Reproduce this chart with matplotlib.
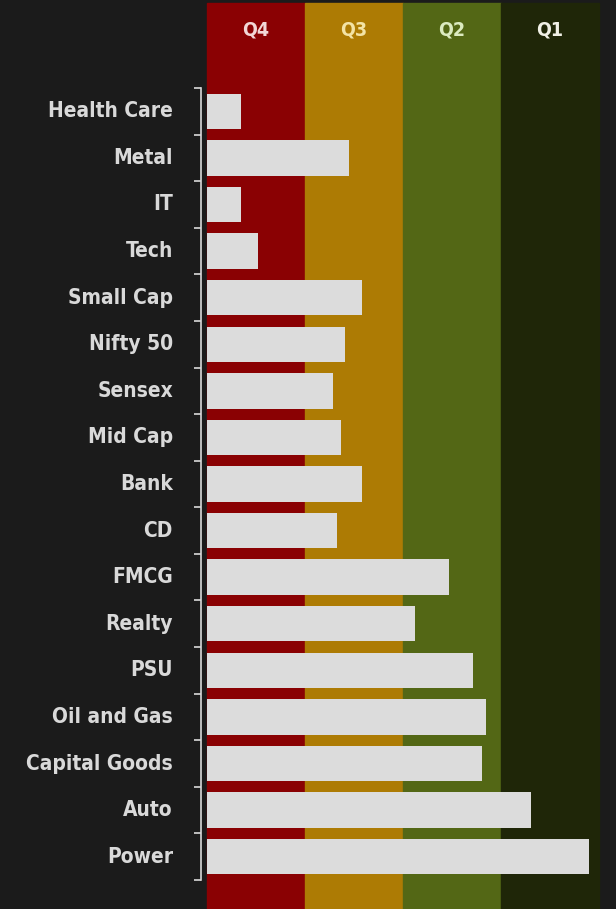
import numpy as np
import matplotlib.pyplot as plt
import matplotlib.transforms as mtransforms
from matplotlib.patches import Rectangle

# sectors, top to bottom
sectors = ['Health Care', 'Metal', 'IT', 'Tech', 'Small Cap', 'Nifty 50', 'Sensex',
           'Mid Cap', 'Bank', 'CD', 'FMCG', 'Realty', 'PSU', 'Oil and Gas',
           'Capital Goods', 'Auto', 'Power']
scores = [8.7, 36.2, 8.7, 13.0, 39.5, 35.2, 32.1, 34.2, 39.5, 33.2, 61.7, 53.0,
          67.9, 71.2, 70.2, 82.7, 97.4]

quartiles = ['Q4', 'Q3', 'Q2', 'Q1']
q_edges = [0, 25, 50, 75, 100]
q_colors = ['#8a0103', '#ad7b04', '#536715', '#1f2608']
q_text = ['#f2d6d6', '#f3e3a6', '#dcebc0', '#f0f0e6']

bg = '#1b1b1b'
fg = '#d9d9d9'

plt.rcParams['font.family'] = ['DejaVu Sans']

fig = plt.figure(figsize=(6.16, 9.09), dpi=100, facecolor=bg)
ax = fig.add_axes([207/616, 1 - 880/909, 392/616, 792/909])
ax.set_facecolor(bg)

trans = mtransforms.blended_transform_factory(ax.transData, ax.transAxes)
for i, q in enumerate(quartiles):
    ax.add_patch(Rectangle((q_edges[i], -0.04), q_edges[i+1] - q_edges[i], 1.147,
                           transform=trans, color=q_colors[i], clip_on=False, zorder=0))
    ax.text((q_edges[i] + q_edges[i+1]) / 2, 1.073, q, transform=trans, ha='center',
            va='center', color=q_text[i], fontsize=14, fontweight='bold',
            fontstretch='condensed')

y = np.arange(len(sectors))
ax.barh(y, scores, height=0.76, color='#dcdcdc', zorder=2)

ax.set_xlim(0, 100)
ax.set_ylim(len(sectors) - 0.5, -0.5)

# category names drawn as text next to the axis
ltrans = mtransforms.blended_transform_factory(ax.transAxes, ax.transData)
for yi, name in zip(y, sectors):
    ax.text(-0.087, yi, name, transform=ltrans, ha='right', va='center',
            fontsize=15, fontweight='bold', fontstretch='condensed', color=fg)

ax.set_yticks(np.arange(-0.5, len(sectors)))
ax.set_yticklabels([])
ax.tick_params(axis='y', length=5, width=1.2, color=fg)
ax.set_xticks([])

for s in ['top', 'right', 'bottom']:
    ax.spines[s].set_visible(False)
ax.spines['left'].set_position(('outward', 4))
ax.spines['left'].set_color(fg)
ax.spines['left'].set_linewidth(1.2)

fig.savefig('out.png', dpi=100, facecolor=bg)
